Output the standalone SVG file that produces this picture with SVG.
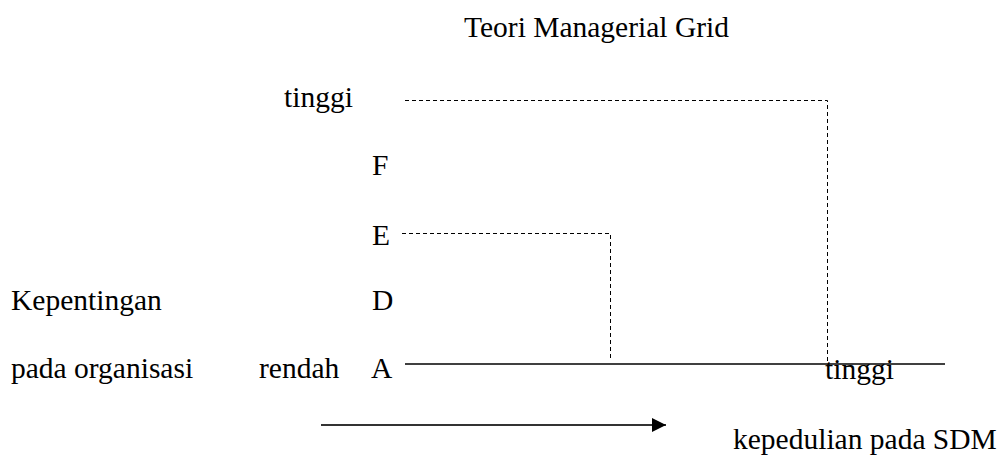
<svg xmlns="http://www.w3.org/2000/svg" width="1007" height="458" viewBox="0 0 1007 458">
<style>
text{font-family:"Liberation Serif","Times New Roman",serif;font-size:29.5px;fill:#000}
.dash{fill:none;stroke:#000;stroke-width:1;stroke-dasharray:4 3}
.solid{fill:none;stroke:#000;stroke-width:1.3}
.arr{fill:none;stroke:#333;stroke-width:1.8}
</style>
<defs>
<marker id="ah" viewBox="0 0 10 10" refX="10" refY="5" markerWidth="15" markerHeight="14" markerUnits="userSpaceOnUse" orient="auto">
<path d="M0,0 L10,5 L0,10 Z" fill="#000"/>
</marker>
</defs>
<g id="title"><text x="464" y="37">Teori Managerial Grid</text></g>
<g id="labels">
<text x="284" y="107">tinggi</text>
<text x="372" y="175">F</text>
<text x="372" y="245">E</text>
<text x="372" y="310">D</text>
<text x="371" y="378">A</text>
<text x="11" y="310">Kepentingan</text>
<text x="11" y="378">pada organisasi</text>
<text x="259" y="378">rendah</text>
<text x="825" y="379">tinggi</text>
<text x="733" y="449">kepedulian pada SDM</text>
</g>
<g id="connectors">
<polyline class="dash" points="405,100.5 827.5,100.5 827.5,362"/>
<polyline class="dash" points="402,233.5 610.5,233.5 610.5,360"/>
<line class="solid" x1="405" y1="364" x2="945" y2="364"/>
<line class="arr" x1="321" y1="425" x2="666" y2="425" marker-end="url(#ah)"/>
</g>
</svg>
